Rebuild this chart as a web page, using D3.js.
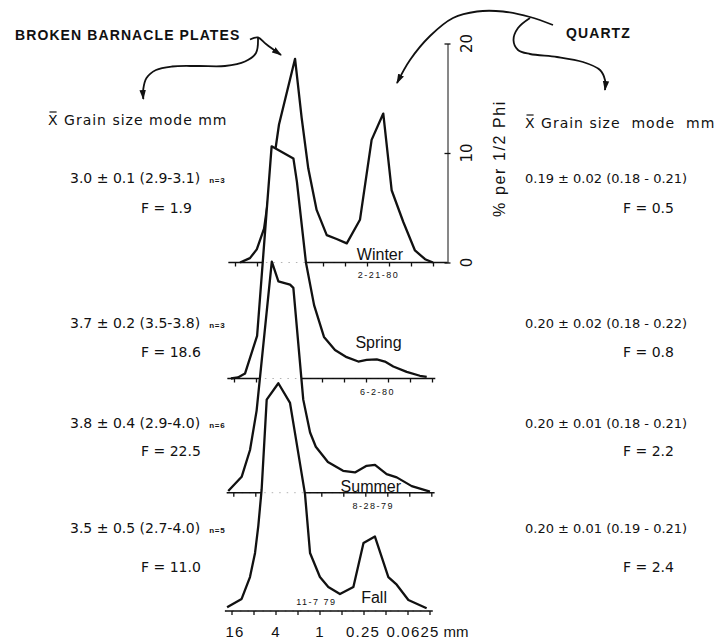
<!DOCTYPE html>
<html>
<head>
    <meta charset="utf-8" />
    <title>Grain size distributions by season</title>
    <script src="https://cdn.jsdelivr.net/npm/d3@7"></script>
    <style>
        html, body {
            margin: 0;
            padding: 0;
            background-color: #fff;
        }
        svg { display: block; }
        text { fill: #111; }
        .stat { font-family: 'DejaVu Sans', sans-serif; font-size: 14px; }
        .head { font-family: 'DejaVu Sans', sans-serif; font-size: 14px; letter-spacing: 1px; white-space: pre; }
        .caps { font-family: 'Liberation Sans', Arial, sans-serif; font-weight: bold; font-size: 14px; letter-spacing: 1.1px; }
        .small { font-family: 'Liberation Sans', Arial, sans-serif; font-weight: bold; font-size: 8px; letter-spacing: 0.8px; }
        .season { font-family: 'Liberation Sans', Arial, sans-serif; font-size: 16px; }
        .date { font-family: 'Liberation Sans', Arial, sans-serif; font-size: 9px; letter-spacing: 1.5px; }
    </style>
</head>
<body>
    <div id="chart"></div>
    <script>
        // ---- data (phi units on x, % per 1/2 phi on y) ----
        var seasons = ["Winter", "Spring", "Summer", "Fall"];
        var dates = ["2-21-80", "6-2-80", "8-28-79", "11-7 79"];

        var winterPhi = [-3.77, -3.32, -3.01, -2.68, -2.0, -1.27, -0.97, -0.67, -0.29, 0.17, 0.62, 1.08, 1.68, 2.21, 2.74, 3.12, 3.65, 4.18, 4.64, 5.0];
        var winterPct = [0, 0.4, 1.2, 3.1, 12.6, 18.6, 13.2, 8.6, 4.8, 2.5, 2.15, 1.75, 3.9, 11.2, 13.6, 6.6, 3.7, 1.1, 0.3, 0];

        var springPhi = [-4.14, -3.82, -3.5, -2.95, -2.29, -1.3, -1.14, -0.73, -0.36, 0.09, 0.59, 1.12, 1.65, 2.03, 2.49, 2.86, 3.24, 3.85, 4.45, 4.76];
        var springPct = [0, 0.1, 0.45, 3.9, 21.2, 20.1, 17.95, 10.6, 6.7, 3.8, 2.6, 1.95, 1.55, 1.7, 1.75, 1.55, 1.1, 0.6, 0.25, 0.15];

        var summerPhi = [-4.23, -3.62, -3.24, -2.94, -2.25, -1.95, -1.42, -1.27, -0.82, -0.51, -0.25, 0.3, 0.99, 1.53, 2.06, 2.44, 2.97, 3.43, 4.11, 4.94];
        var summerPct = [0.15, 1.45, 3.9, 7.5, 21.1, 19.3, 19.0, 18.7, 8.5, 5.5, 4.2, 2.8, 2.0, 1.85, 2.45, 2.55, 1.7, 1.4, 0.6, 0.1];

        var fallPhi = [-4.2, -3.54, -3.16, -2.93, -2.78, -2.63, -2.4, -1.87, -1.34, -1.11, -0.66, -0.43, 0.02, 0.4, 0.93, 1.54, 2.0, 2.52, 3.13, 3.51, 4.04, 4.87];
        var fallPct = [0.35, 1.1, 3.1, 5.3, 7.8, 11.1, 19.3, 20.8, 19.0, 16.2, 10.7, 5.3, 3.1, 2.2, 1.55, 2.2, 6.2, 6.8, 3.1, 2.4, 1.0, 0.25];

        var phiTicks = [-4, -3, -2, -1, 0, 1, 2, 3, 4, 5];
        var labelPhi = [-4, -2, 0, 2, 4];
        var labelMM = ["16", "4", "1", "0.25", "0.0625"];
        var pctTicks = [0, 10, 20];

        var barnacleStats = ["3.0 ± 0.1 (2.9-3.1)", "3.7 ± 0.2 (3.5-3.8)", "3.8 ± 0.4 (2.9-4.0)", "3.5 ± 0.5 (2.7-4.0)"];
        var barnacleN = ["n=3", "n=3", "n=6", "n=5"];
        var barnacleF = ["F = 1.9", "F = 18.6", "F = 22.5", "F = 11.0"];
        var quartzStats = ["0.19 ± 0.02 (0.18 - 0.21)", "0.20 ± 0.02 (0.18 - 0.22)", "0.20 ± 0.01 (0.18 - 0.21)", "0.20 ± 0.01 (0.19 - 0.21)"];
        var quartzF = ["F = 0.5", "F = 0.8", "F = 2.2", "F = 2.4"];

        var curves = [
            d3.zip(winterPhi, winterPct),
            d3.zip(springPhi, springPct),
            d3.zip(summerPhi, summerPct),
            d3.zip(fallPhi, fallPct)
        ];

        // ---- layout ----
        var width = 721, height = 639;
        var baseY = [262.5, 378.5, 492.7, 611];
        var shiftX = [3.5, 2.5, 1.8, 0];
        var axisX = 447.5;
        var seasonPhi = [2.59, 2.57, 2.25, 2.48], seasonDy = [-3, -30.5, -1.2, -8];
        var datePhi = [2.52, 2.52, 2.36, -0.14], dateDy = [15.5, 16.5, 16.3, -6];
        var statY = [183, 328, 428, 533], fY = [213, 357, 456, 572];
        var mmDx = [3, 0, 0, -1, 5];

        var x = d3.scaleLinear().domain([-4, 5]).range([231.5, 429.5]);
        var h = d3.scaleLinear().domain([0, 20]).range([0, 219]);

        var svg = d3.select("#chart").append("svg")
            .attr("width", width)
            .attr("height", height);

        var defs = svg.append("defs");
        defs.append("marker")
            .attr("id", "ah")
            .attr("viewBox", "0 -4 10 8")
            .attr("refX", 9).attr("refY", 0)
            .attr("markerWidth", 10).attr("markerHeight", 8)
            .attr("markerUnits", "userSpaceOnUse")
            .attr("orient", "auto")
            .append("path")
            .attr("d", "M0,-3.2L10,0L0,3.2Z")
            .attr("fill", "#111");

        function mmFormat(d) {
            var k = labelPhi.indexOf(d);
            return k < 0 ? "" : labelMM[k];
        }

        // panels, top to bottom; each white area hides what lies behind it
        seasons.forEach(function(name, i) {
            var y0 = baseY[i];
            var g = svg.append("g").attr("transform", "translate(" + shiftX[i] + ",0)");

            var area = d3.area()
                .x(function(d) { return x(d[0]); })
                .y0(y0)
                .y1(function(d) { return y0 - h(d[1]); });
            var line = d3.line()
                .x(function(d) { return x(d[0]); })
                .y(function(d) { return y0 - h(d[1]); });

            g.append("path").datum(curves[i])
                .attr("d", area)
                .attr("fill", "#fff");

            g.append("line")
                .attr("x1", x(-4.3))
                .attr("x2", i === 0 ? axisX - shiftX[0] : x(5.15))
                .attr("y1", y0).attr("y2", y0)
                .attr("stroke", "#111")
                .attr("stroke-width", 1.5);

            var ax = g.append("g")
                .attr("transform", "translate(0," + y0 + ")")
                .style("color", "#111")
                .call(d3.axisBottom(x)
                    .tickValues(phiTicks)
                    .tickSize(4)
                    .tickSizeOuter(0)
                    .tickPadding(11)
                    .tickFormat(i === 3 ? mmFormat : function() { return ""; }));
            ax.select(".domain").remove();
            ax.selectAll(".tick line").attr("stroke-width", 1.3);
            ax.selectAll(".tick text")
                .attr("font-family", "'Liberation Sans', Arial, sans-serif")
                .attr("font-size", 15)
                .attr("dx", function(d) { var k = labelPhi.indexOf(d); return k < 0 ? 0 : mmDx[k]; })
                .style("letter-spacing", "1.2px");

            g.append("path").datum(curves[i])
                .attr("d", line)
                .attr("fill", "none")
                .attr("stroke", "#111")
                .attr("stroke-width", 2.3)
                .attr("stroke-linejoin", "round");

            g.append("text")
                .attr("class", "season")
                .attr("x", x(seasonPhi[i]))
                .attr("y", y0 + seasonDy[i])
                .attr("text-anchor", "middle")
                .text(name);

            g.append("text")
                .attr("class", "date")
                .attr("x", x(datePhi[i]))
                .attr("y", y0 + dateDy[i])
                .attr("text-anchor", "middle")
                .text(dates[i]);
        });

        // faint dotted trace of the baselines where they are hidden
        baseY.forEach(function(y0, i) {
            svg.append("line")
                .attr("x1", x(-4.3) + shiftX[i])
                .attr("x2", x(5.1) + shiftX[i])
                .attr("y1", y0).attr("y2", y0)
                .attr("stroke", "#000")
                .attr("stroke-opacity", 0.3)
                .attr("stroke-width", 1)
                .attr("stroke-dasharray", "1.5,6");
        });

        svg.append("text")
            .attr("x", x(5) + 14)
            .attr("y", 637)
            .style("font-family", "'Liberation Sans', Arial, sans-serif")
            .style("font-size", "15px")
            .text("mm");

        // percent axis on the right of the winter panel
        var yAx = d3.scaleLinear().domain([0, 20]).range([baseY[0], baseY[0] - h(20)]);
        var yg = svg.append("g")
            .attr("transform", "translate(" + axisX + ",0)")
            .style("color", "#111")
            .call(d3.axisLeft(yAx).tickValues(pctTicks).tickSize(3).tickSizeOuter(0).tickFormat(""));
        yg.select(".domain").attr("stroke-width", 1);
        yg.selectAll(".tick line").attr("x2", 3).attr("x1", -3).attr("stroke-width", 1.3);

        pctTicks.forEach(function(t) {
            svg.append("text")
                .attr("class", "stat")
                .attr("transform", "translate(471.5," + yAx(t) + ") rotate(-90)")
                .attr("text-anchor", "middle")
                .style("font-size", "15px")
                .text(t);
        });

        svg.append("text")
            .attr("transform", "translate(505,158.5) rotate(-90)")
            .attr("text-anchor", "middle")
            .style("font-family", "'Liberation Sans', Arial, sans-serif")
            .style("font-size", "16px")
            .style("letter-spacing", "1.6px")
            .text("% per 1/2 Phi");

        // headings
        svg.append("text").attr("class", "caps").attr("x", 15).attr("y", 40).text("BROKEN BARNACLE PLATES");
        svg.append("text").attr("class", "caps").attr("x", 566).attr("y", 38).text("QUARTZ");

        function xbarHeading(x0, y0, rest) {
            var t = svg.append("text").attr("class", "head").attr("x", x0).attr("y", y0);
            var xs = t.append("tspan").text("X");
            t.append("tspan").text(rest);
            var w = xs.node().getComputedTextLength();
            svg.append("line")
                .attr("x1", x0 + 1.5).attr("x2", x0 + w - 2)
                .attr("y1", y0 - 13).attr("y2", y0 - 13)
                .attr("stroke", "#111").attr("stroke-width", 1.2);
        }
        xbarHeading(48, 125, " Grain size mode mm");
        xbarHeading(525, 128, " Grain size  mode  mm");

        // statistics beside each panel
        barnacleStats.forEach(function(s, i) {
            var t = svg.append("text").attr("class", "stat").attr("x", 70).attr("y", statY[i]).text(s);
            var w = t.node().getComputedTextLength();
            svg.append("text").attr("class", "small").attr("x", 70 + w + 9).attr("y", statY[i]).text(barnacleN[i]);
            svg.append("text").attr("class", "stat").attr("x", 141).attr("y", fY[i]).text(barnacleF[i]);
        });
        quartzStats.forEach(function(s, i) {
            svg.append("text").attr("class", "stat").attr("x", 525).attr("y", statY[i])
                .style("font-size", "13px").text(s);
            svg.append("text").attr("class", "stat").attr("x", 623).attr("y", fY[i]).text(quartzF[i]);
        });

        // hand-drawn pointer arrows
        var arrowLine = d3.line().curve(d3.curveCatmullRom.alpha(0.5));
        var arrows = [
            [[258, 38], [256, 53], [245, 61.5], [225, 66], [198, 66], [172, 66.5], [156, 70], [146.5, 78], [143.3, 89], [143.3, 99]],
            [[250, 39.5], [258, 37.5], [266, 44], [281, 55]],
            [[553, 25], [530, 17], [503, 11.5], [477, 11.5], [453, 18], [430, 36], [410, 60], [397, 83]],
            [[530, 18], [518, 28], [513.5, 40], [518, 50], [530, 54], [557, 57], [583, 62], [600, 70], [605, 80], [605, 90]]
        ];
        arrows.forEach(function(pts) {
            svg.append("path")
                .attr("d", arrowLine(pts))
                .attr("fill", "none")
                .attr("stroke", "#111")
                .attr("stroke-width", 1.8)
                .attr("marker-end", "url(#ah)");
        });
    </script>
</body>
</html>
